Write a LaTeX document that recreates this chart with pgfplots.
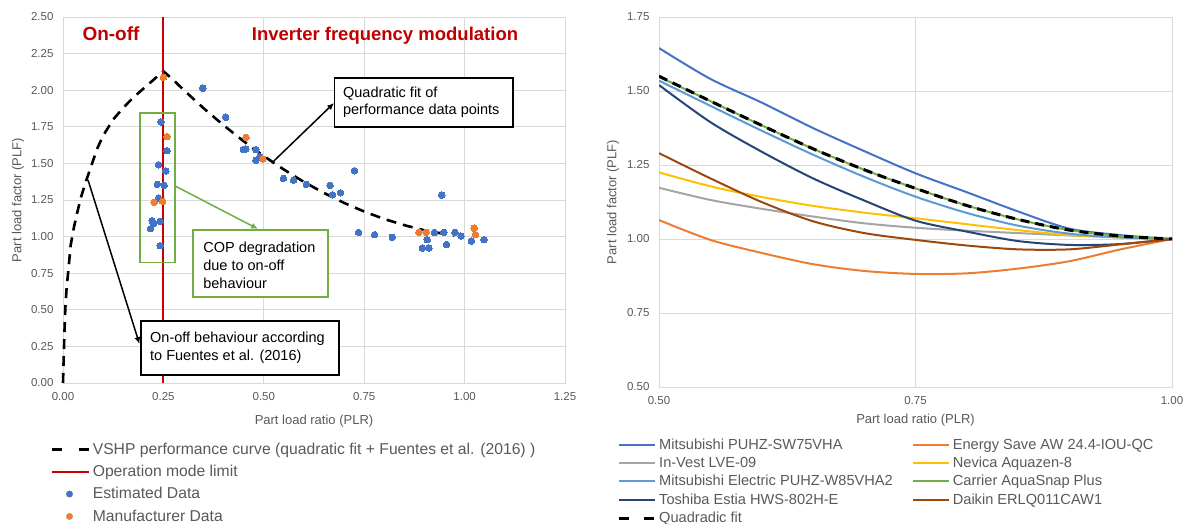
\documentclass[border=0pt]{standalone}
\usepackage{fontspec}
\setmainfont{Liberation Sans}
\usepackage{pgfplots}
\pgfplotsset{compat=1.18}
\usetikzlibrary{arrows.meta}
\definecolor{tickgrey}{HTML}{595959}
\definecolor{gridgrey}{HTML}{D9D9D9}
\definecolor{oplimit}{HTML}{C80000}
\definecolor{titlered}{HTML}{C00000}
\definecolor{estblue}{HTML}{4472C4}
\definecolor{manorange}{HTML}{ED7D31}
\definecolor{boxgreen}{HTML}{70AD47}
\definecolor{cblue}{HTML}{4472C4}
\definecolor{corange}{HTML}{ED7D31}
\definecolor{cgrey}{HTML}{A5A5A5}
\definecolor{cyellow}{HTML}{FFC000}
\definecolor{clblue}{HTML}{5B9BD5}
\definecolor{cgreen}{HTML}{70AD47}
\definecolor{cnavy}{HTML}{264478}
\definecolor{cbrown}{HTML}{9E480E}

\pgfplotsset{
  excel/.style={
    scale only axis,
    axis line style={gridgrey, line width=0.8pt},
    grid=major,
    major grid style={gridgrey, line width=0.8pt},
    major tick length=0pt,
    tick style={draw=none},
    ticklabel style={font=\fontsize{11.5}{13}\selectfont, text=tickgrey},
    /pgf/number format/assume math mode=true,
    /pgf/number format/fixed,
    /pgf/number format/fixed zerofill,
    /pgf/number format/precision=2,
    xticklabel style={yshift=-6pt},
    yticklabel style={xshift=-6pt},
    label style={font=\fontsize{13}{15}\selectfont, text=tickgrey},
    legend cell align=left,
  }
}

\begin{document}
\begin{tikzpicture}[x=1pt,y=1pt]
\useasboundingbox (0,0) rectangle (1187,524);

% ---------------- left chart ----------------
\begin{axis}[excel,
  at={(63pt,141pt)}, anchor=south west,
  width=502pt, height=366pt,
  xmin=0, xmax=1.25, ymin=0, ymax=2.5,
  xtick={0,0.25,0.5,0.75,1,1.25},
  ytick={0,0.25,0.5,0.75,1,1.25,1.5,1.75,2,2.25,2.5},
  clip=false,
  xlabel={Part load ratio (PLR)}, ylabel={Part load factor (PLF)},
  xlabel style={at={(axis description cs:0.5,-0.1037)}, anchor=center},
  ylabel style={at={(axis description cs:-0.0896,0.5)}, anchor=center},
  legend style={at={(axis description cs:-0.0259,-0.163)}, anchor=north west,
    draw=none, fill=none, inner sep=0pt,
    font=\fontsize{15.7}{17}\selectfont, text=tickgrey, row sep=9.5pt,
    nodes={inner sep=0pt},
    /tikz/every odd column/.append style={column sep=3pt}},
]
\addplot[black, line width=2.6pt, dash pattern=on 10pt off 7pt,
  legend image code/.code={\draw[black, line width=2.6pt, dash pattern=on 10pt off 17pt] (0pt,0pt) -- (37pt,0pt);}]
coordinates {
(0,0)(0.002,0.2)(0.004,0.38)(0.006,0.52)(0.009,0.65)(0.013,0.76)(0.019,0.94)
(0.027,1.06)(0.035,1.16)(0.045,1.27)(0.055,1.36)(0.07,1.48)(0.085,1.60)
(0.1,1.69)(0.125,1.80)(0.15,1.88)(0.175,1.95)(0.2,2.01)(0.225,2.07)(0.25,2.13)
(0.275,2.069)(0.3,2.003)(0.35,1.877)(0.4,1.760)(0.45,1.651)(0.5,1.550)
(0.55,1.458)(0.6,1.373)(0.65,1.298)(0.7,1.230)(0.75,1.171)(0.8,1.120)
(0.85,1.078)(0.9,1.043)(0.95,1.018)(0.975,1.008)
};
\addlegendentry{VSHP performance curve (quadratic fit + Fuentes et al. (2016) )}

\addplot[draw=oplimit, color=oplimit, line width=2pt,
  legend image code/.code={\draw[oplimit, line width=2pt] (0pt,0pt) -- (37pt,0pt);}]
coordinates {(0.25,0)(0.25,2.5)};
\addlegendentry{Operation mode limit}

\addplot[estblue, only marks, mark=*, mark size=3.3pt, mark options={draw=estblue, fill=estblue, line width=0pt},
  legend image code/.code={\fill[estblue] (18pt,0pt) circle (3.2pt);}]
coordinates {
(0.348,2.013)(0.244,1.783)(0.405,1.815)(0.449,1.594)(0.455,1.598)(0.480,1.594)
(0.480,1.521)(0.490,1.544)(0.259,1.587)(0.238,1.491)(0.256,1.448)(0.235,1.357)
(0.252,1.350)(0.549,1.398)(0.574,1.385)(0.238,1.262)(0.222,1.109)(0.218,1.054)
(0.225,1.090)(0.242,1.104)(0.242,0.938)(0.606,1.357)(0.665,1.350)(0.726,1.450)
(0.671,1.286)(0.691,1.299)(0.943,1.284)(0.736,1.029)(0.776,1.013)(0.820,0.995)
(0.907,0.979)(0.895,0.922)(0.911,0.922)(0.925,1.029)(0.948,1.029)(0.955,0.947)
(0.976,1.029)(0.991,1.004)(1.017,0.970)(1.048,0.979)
};
\addlegendentry{Estimated Data}

\addplot[manorange, only marks, mark=*, mark size=3.3pt, mark options={draw=manorange, fill=manorange, line width=0pt},
  legend image code/.code={\fill[manorange] (18pt,0pt) circle (3.2pt);}]
coordinates {
(0.250,2.088)(0.259,1.683)(0.456,1.678)(0.498,1.530)(0.227,1.234)(0.248,1.241)
(0.886,1.029)(0.904,1.029)(1.024,1.057)(1.027,1.013)
};
\addlegendentry{Manufacturer Data}

% annotations
\draw[boxgreen, line width=1.5pt] (axis cs:0.192,1.844) rectangle (axis cs:0.279,0.822);
\draw[boxgreen, line width=1.5pt, -{Latex[length=7pt,width=6pt]}] (axis cs:0.279,1.346) -- (axis cs:0.4856,1.052);
\draw[boxgreen, line width=1.5pt, fill=white] (axis cs:0.3237,1.045) rectangle (axis cs:0.660,0.587);
\node[anchor=west, align=left, inner sep=0pt, font=\fontsize{14.5}{18}\selectfont] at (axis cs:0.349,0.806)
  {COP degradation\\due to on-off\\behaviour};

\draw[black, line width=1.5pt, -{Latex[length=7pt,width=6pt]}] (axis cs:0.52,1.503) -- (axis cs:0.675,1.913);
\draw[black, line width=1.6pt, fill=white] (axis cs:0.6765,2.085) rectangle (axis cs:1.12,1.749);
\node[anchor=west, align=left, inner sep=0pt, font=\fontsize{14.5}{17}\selectfont] at (axis cs:0.697,1.917)
  {Quadratic fit of\\performance data points};

\draw[black, line width=1.5pt, -{Latex[length=7pt,width=6pt]}] (axis cs:0.0623,1.387) -- (axis cs:0.1905,0.266);
\draw[black, line width=1.6pt, fill=white] (axis cs:0.1935,0.4215) rectangle (axis cs:0.687,0.0546);
\node[anchor=west, align=left, inner sep=0pt, font=\fontsize{14.5}{18}\selectfont] at (axis cs:0.2166,0.2425)
  {On-off behaviour according\\to Fuentes et al. (2016)};

\node[anchor=base, inner sep=0pt, text=titlered, font=\bfseries\fontsize{19}{22}\selectfont] at (axis cs:0.1195,2.339) {On-off};
\node[anchor=base, inner sep=0pt, text=titlered, font=\bfseries\fontsize{18.5}{22}\selectfont] at (axis cs:0.8018,2.339) {Inverter frequency modulation};
\end{axis}

% ---------------- right chart ----------------
\begin{axis}[excel,
  at={(659pt,137pt)}, anchor=south west,
  width=513pt, height=370pt,
  xmin=0.5, xmax=1, ymin=0.5, ymax=1.75,
  xtick={0.5,0.75,1}, ytick={0.5,0.75,1,1.25,1.5,1.75},
  xlabel={Part load ratio (PLR)}, ylabel={Part load factor (PLF)},
  xlabel style={at={(axis description cs:0.5,-0.0892)}, anchor=center},
  ylabel style={at={(axis description cs:-0.0897,0.5)}, anchor=center},
  legend columns=2,
  legend style={at={(axis description cs:-0.0819,-0.1396)}, anchor=north west,
    draw=none, fill=none, inner sep=0pt,
    font=\fontsize{14.6}{16}\selectfont, text=tickgrey, row sep=6.2pt,
    nodes={inner sep=0pt},
    /tikz/every odd column/.append style={column sep=3pt},
    /tikz/every even column/.append style={column sep=19pt}},
  legend image code/.code={\draw[#1] (0pt,0pt) -- (36pt,0pt);},
]
\addplot[cblue, line width=2pt, smooth] coordinates {
(0.5,1.645)(0.55,1.541)(0.6,1.461)(0.65,1.375)(0.7,1.297)(0.75,1.222)(0.8,1.158)(0.85,1.093)(0.9,1.035)(0.95,1.013)(1,1)};
\addlegendentry{Mitsubishi PUHZ-SW75VHA}
\addplot[corange, line width=2pt, smooth] coordinates {
(0.5,1.064)(0.55,0.997)(0.6,0.953)(0.65,0.915)(0.7,0.892)(0.75,0.882)(0.8,0.884)(0.85,0.900)(0.9,0.925)(0.95,0.965)(1,1)};
\addlegendentry{Energy Save AW 24.4-IOU-QC}
\addplot[cgrey, line width=2pt, smooth] coordinates {
(0.5,1.173)(0.55,1.132)(0.6,1.102)(0.65,1.076)(0.7,1.053)(0.75,1.038)(0.8,1.028)(0.85,1.020)(0.9,1.012)(0.95,1.006)(1,1)};
\addlegendentry{In-Vest LVE-09}
\addplot[cyellow, line width=2pt, smooth] coordinates {
(0.5,1.225)(0.55,1.178)(0.6,1.142)(0.65,1.112)(0.7,1.089)(0.75,1.070)(0.8,1.050)(0.85,1.030)(0.9,1.013)(0.95,1.005)(1,1)};
\addlegendentry{Nevica Aquazen-8}
\addplot[clblue, line width=2pt, smooth] coordinates {
(0.5,1.535)(0.55,1.450)(0.6,1.366)(0.65,1.285)(0.7,1.210)(0.75,1.143)(0.8,1.088)(0.85,1.045)(0.9,1.018)(0.95,1.005)(1,1)};
\addlegendentry{Mitsubishi Electric PUHZ-W85VHA2}
\addplot[cgreen, line width=2pt, smooth] coordinates {
(0.5,1.548)(0.55,1.466)(0.6,1.384)(0.65,1.305)(0.7,1.234)(0.75,1.171)(0.8,1.113)(0.85,1.066)(0.9,1.030)(0.95,1.010)(1,1)};
\addlegendentry{Carrier AquaSnap Plus}
\addplot[cnavy, line width=2pt, smooth] coordinates {
(0.5,1.520)(0.55,1.395)(0.6,1.295)(0.65,1.205)(0.7,1.130)(0.75,1.062)(0.8,1.025)(0.85,0.993)(0.9,0.980)(0.95,0.983)(1,1)};
\addlegendentry{Toshiba Estia HWS-802H-E}
\addplot[cbrown, line width=2pt, smooth] coordinates {
(0.5,1.290)(0.55,1.205)(0.6,1.125)(0.65,1.060)(0.7,1.020)(0.75,0.997)(0.8,0.978)(0.85,0.965)(0.9,0.965)(0.95,0.982)(1,1)};
\addlegendentry{Daikin ERLQ011CAW1}
\addplot[black, line width=3pt, dash pattern=on 9pt off 6pt, smooth,
  legend image code/.code={\draw[black, line width=3pt, dash pattern=on 10.5pt off 14.5pt] (0pt,0pt) -- (36pt,0pt);}] coordinates {
(0.5,1.550)(0.55,1.466)(0.6,1.384)(0.65,1.305)(0.7,1.234)(0.75,1.171)(0.8,1.113)(0.85,1.066)(0.9,1.030)(0.95,1.010)(1,1)};
\addlegendentry{Quadradic fit}
\end{axis}
\end{tikzpicture}
\end{document}
